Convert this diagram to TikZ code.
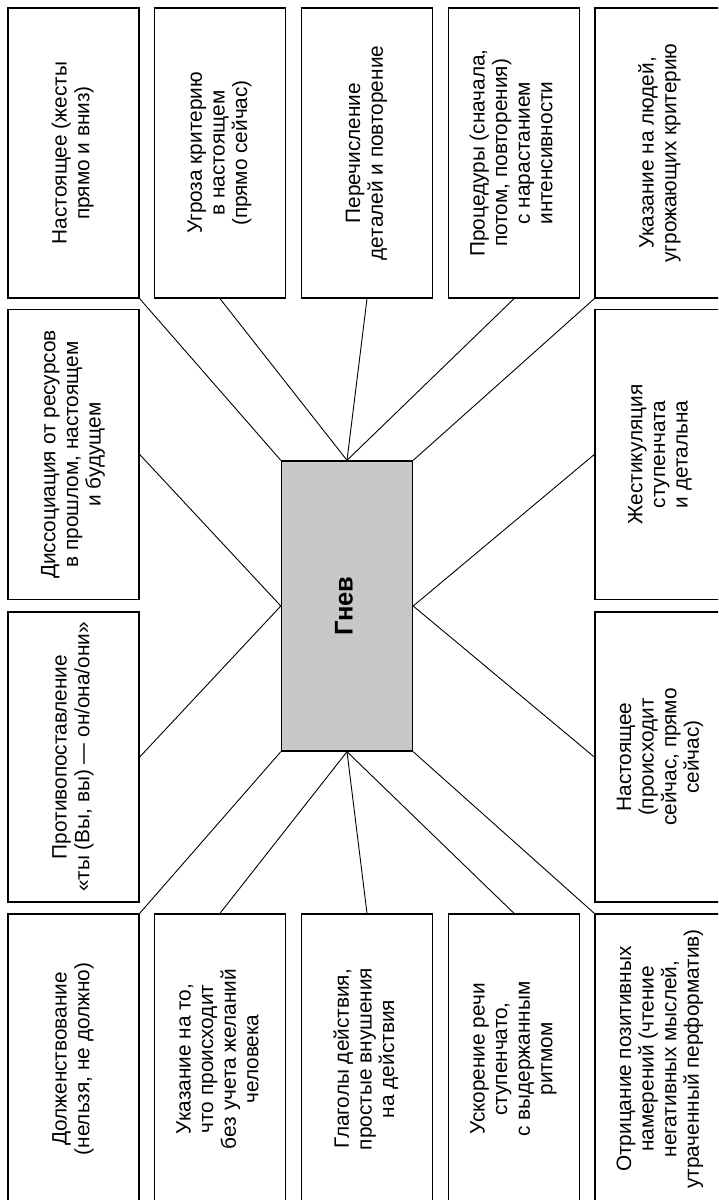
\documentclass[tikz,border=0pt]{standalone}
\usepackage{fontspec}
\usepackage{graphicx}
\setmainfont{Liberation Sans}
\definecolor{hubgray}{RGB}{200,200,200}
\newcommand{\vtext}[1]{\rotatebox{90}{\begin{tabular}{@{}c@{}}#1\end{tabular}}}
\tikzset{
	boxnode/.style={draw,line width=0.7pt,rectangle,inner sep=0pt,
		minimum width=65.5pt,minimum height=145pt,
		font=\fontsize{10.4}{11.3}\selectfont},
	hub/.style={boxnode,fill=hubgray,font=\fontsize{12.8}{14}\selectfont},
	link/.style={line width=0.45pt}
}
\begin{document}
\begin{tikzpicture}[x=0.5pt,y=-0.5pt]
	\useasboundingbox (0,0) rectangle (718,1200);
	\clip (0,0) rectangle (718,1200);
	\node[hub] (anger) at (347,606) {\vtext{\textbf{Гнев}}};
	% top row
	\node[boxnode] (t1) at (73.5,153) {\vtext{Настоящее (жесты\\прямо и вниз)}};
	\node[boxnode] (t2) at (220,153) {\vtext{Угроза критерию\\в настоящем\\(прямо сейчас)}};
	\node[boxnode] (t3) at (367,153) {\vtext{Перечисление\\деталей и повторение}};
	\node[boxnode] (t4) at (514,153) {\vtext{Процедуры (сначала,\\потом, повторения)\\с нарастанием\\интенсивности}};
	\node[boxnode] (t5) at (660.5,153) {\vtext{Указание на людей,\\угрожающих критерию}};
	% sides
	\node[boxnode] (l1) at (73.5,454.5) {\vtext{Диссоциация от ресурсов\\в прошлом, настоящем\\и будущем}};
	\node[boxnode] (l2) at (73.5,757) {\vtext{Противопоставление\\«ты (Вы, вы) — он/она/они»}};
	\node[boxnode] (r1) at (660.5,454.5) {\vtext{Жестикуляция\\ступенчата\\и детальна}};
	\node[boxnode] (r2) at (660.5,757) {\vtext{Настоящее\\(происходит\\сейчас, прямо\\сейчас)}};
	% bottom row
	\node[boxnode] (b1) at (73.5,1059) {\vtext{Долженствование\\(нельзя, не должно)}};
	\node[boxnode] (b2) at (220,1059) {\vtext{Указание на то,\\что происходит\\без учета желаний\\человека}};
	\node[boxnode] (b3) at (367,1059) {\vtext{Глаголы действия,\\простые внушения\\на действия}};
	\node[boxnode] (b4) at (514,1059) {\vtext{Ускорение речи\\ступенчато,\\с выдержанным\\ритмом}};
	\node[boxnode] (b5) at (660.5,1059) {\vtext{Отрицание позитивных\\намерений (чтение\\негативных мыслей,\\утраченный перформатив)}};
	% links
	\draw[link] (t1.south east)--(anger.north west);
	\draw[link] (t2.south)--(anger.north);
	\draw[link] (t3.south)--(anger.north);
	\draw[link] (t4.south)--(anger.north);
	\draw[link] (t5.south west)--(anger.north east);
	\draw[link] (l1.east)--(anger.west);
	\draw[link] (l2.east)--(anger.west);
	\draw[link] (r1.west)--(anger.east);
	\draw[link] (r2.west)--(anger.east);
	\draw[link] (b1.north east)--(anger.south west);
	\draw[link] (b2.north)--(anger.south);
	\draw[link] (b3.north)--(anger.south);
	\draw[link] (b4.north)--(anger.south);
	\draw[link] (b5.north west)--(anger.south east);
\end{tikzpicture}
\end{document}
